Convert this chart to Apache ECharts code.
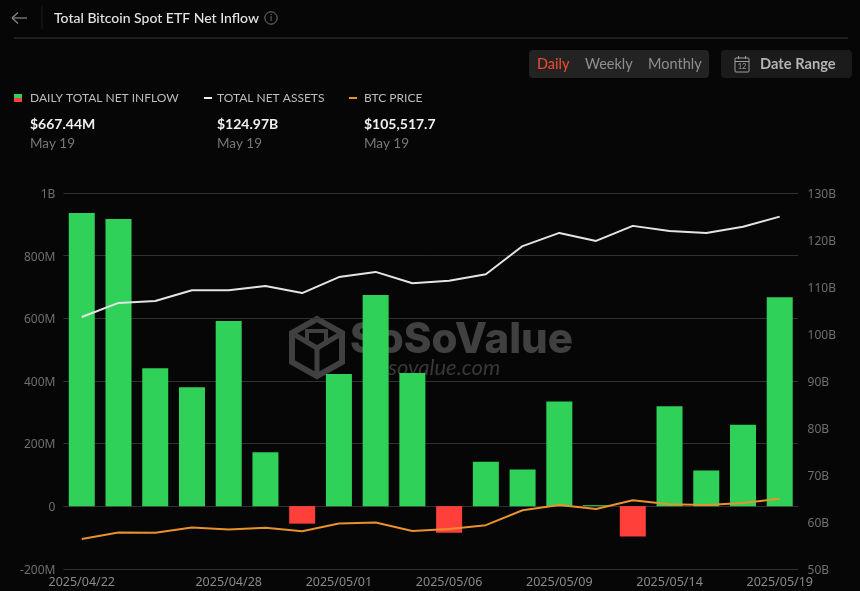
<!DOCTYPE html>
<html><head><meta charset="utf-8">
<style>html,body{margin:0;padding:0;background:#060606}#c{width:860px;height:591px}</style>
<script src="https://cdn.jsdelivr.net/npm/echarts@6/dist/echarts.min.js"></script>
</head><body><div id="c"></div>
<script>
const dates = ['2025/04/22','2025/04/23','2025/04/24','2025/04/25','2025/04/28','2025/04/29','2025/04/30','2025/05/01','2025/05/02','2025/05/05','2025/05/06','2025/05/07','2025/05/08','2025/05/09','2025/05/12','2025/05/13','2025/05/14','2025/05/15','2025/05/16','2025/05/19'];
const shownDates = [0,4,7,10,13,16,19];
const netInflow = [936,917,440,380,591,172,-56,422,674,425,-85,142,117,334,3,-97,319,114,260,667.44];
const netAssets = [103.6,106.6,107,109.3,109.3,110.2,108.7,112.1,113.2,110.8,111.3,112.7,118.7,121.5,119.8,123,121.9,121.5,122.8,124.97];
const btcPrice = [93730,95600,95550,97070,96490,97010,95990,98240,98540,96080,96660,97750,102140,103690,102520,105070,103900,103690,104280,105517.7];
const GREEN='#30d158', RED='#ff3f3a', FONT='Lato', AXF='"Noto Sans"', WM='#404040';
const T=(x,y,text,fill,size,weight,align)=>({type:'text',x,y,silent:true,style:{text,fill,font:`${weight||400} ${size}px ${FONT}`,align:align||'left',verticalAlign:'middle'}});
const R=(x,y,w,h,fill,r)=>({type:'rect',silent:true,shape:{x,y,width:w,height:h,r:r||0},style:{fill}});
const L=(x1,y1,x2,y2,stroke,lw)=>({type:'line',silent:true,z:0,shape:{x1,y1,x2,y2},style:{stroke,lineWidth:lw||1}});
const graphics=[
 L(12,18,27,18,'#8a8a8a',1.2),L(12,18,18,12.5,'#8a8a8a',1.2),L(12,18,18,23.5,'#8a8a8a',1.2),
 L(42,6,42,29,'#1c1c1c'),
 T(54,18,'Total Bitcoin Spot ETF Net Inflow','#e4e4e4',14,500),
 {type:'circle',silent:true,shape:{cx:271,cy:18,r:6.2},style:{fill:'none',stroke:'#777',lineWidth:1}},
 T(271,18,'i','#777',9,400,'center'),
 L(14,38,848,38,'#343434'),
 R(529,50,180,28,'#232323',4),
 T(537,64.5,'Daily','#e5492f',14.5,500),T(585,64.5,'Weekly','#8f8f8f',14.5),T(648,64.5,'Monthly','#8f8f8f',14.5),
 R(721,50,131,28,'#1b1b1b',4),
 {type:'rect',silent:true,shape:{x:735,y:58,width:14,height:14,r:1},style:{fill:'none',stroke:'#a0a0a0',lineWidth:1}},
 L(735,61.5,749,61.5,'#a0a0a0'),L(738.5,56,738.5,59,'#a0a0a0'),L(745.5,56,745.5,59,'#a0a0a0'),
 T(742,67,'12','#a0a0a0',7.5,400,'center'),
 T(760,64.5,'Date Range','#b4b4b4',14.7,700),
 R(14,94,8,4,GREEN),R(14,98,8,4,RED),
 T(30,98,'DAILY TOTAL NET INFLOW','#bdbdbd',12),
 T(30,124,'$667.44M','#f0f0f0',14,700),T(30,144,'May 19','#777',13.5),
 R(204,97,8,2,'#f0f0f0'),
 T(217,98,'TOTAL NET ASSETS','#bdbdbd',12),
 T(217,124,'$124.97B','#f0f0f0',14,700),T(217,144,'May 19','#777',13.5),
 R(349,97,8,2,'#e8912d'),
 T(364,98,'BTC PRICE','#bdbdbd',12),
 T(364,124,'$105,517.7','#f0f0f0',14,700),T(364,144,'May 19','#777',13.5),
 {type:'polygon',silent:true,z:0,shape:{points:[[317,319],[342,333],[342,362],[317,376],[292,362],[292,333]]},style:{fill:'none',stroke:WM,lineWidth:6}},
 {type:'polyline',silent:true,z:0,shape:{points:[[295,335],[317,348],[339,335]]},style:{fill:'none',stroke:WM,lineWidth:5}},
 L(317,348,317,374,WM,5),
 {type:'polyline',silent:true,z:0,shape:{points:[[307,341],[307,331],[326,331],[326,345]]},style:{fill:'none',stroke:WM,lineWidth:4}},
 {type:'text',silent:true,z:0,x:350,y:340,style:{text:'SoSoValue',fill:WM,font:'800 42px "Inter"',align:'left',verticalAlign:'middle'}},
 {type:'text',silent:true,z:0,x:368,y:368,style:{text:'sosovalue.com',fill:'#383838',font:'italic 400 22px "Lato"',align:'left',verticalAlign:'middle'}}
];
const axisLab={color:'#6f6f6f',fontFamily:AXF,fontSize:12,verticalAlign:'top',lineHeight:3};
const chart=echarts.init(document.getElementById('c'),null,{renderer:'canvas'});
chart.setOption({
 animation:false,backgroundColor:'#060606',
 graphic:graphics,
 grid:{left:63.4,right:61.9,top:193,bottom:22.25,containLabel:false},
 xAxis:{type:'category',data:dates,boundaryGap:true,position:'bottom',
  axisLine:{onZero:false,show:false},axisTick:{show:false},splitLine:{show:false},
  axisLabel:{color:'#8a8a8a',fontFamily:AXF,fontSize:12.5,margin:7,hideOverlap:false,
   interval:(i)=>shownDates.includes(i)}},
 yAxis:[
  {type:'value',min:-200,max:1000,interval:200,position:'left',
   axisLine:{show:false},axisTick:{show:false},splitLine:{lineStyle:{color:'#303030',width:1}},
   axisLabel:{...axisLab,margin:8,formatter:v=>v===1000?'1B':v===0?'0':v+'M'}},
  {type:'value',min:50,max:130,interval:10,position:'right',
   axisLine:{show:false},axisTick:{show:false},splitLine:{show:false},
   axisLabel:{...axisLab,margin:9.5,formatter:v=>v+'B'}},
  {type:'value',min:85000,max:195000,show:false,splitLine:{show:false}}
 ],
 series:[
  {name:'Daily Total Net Inflow',type:'bar',yAxisIndex:0,barWidth:26,
   data:netInflow.map(v=>({value:v,itemStyle:{color:v<0?RED:GREEN}}))},
  {name:'Total Net Assets',type:'line',yAxisIndex:1,data:netAssets,symbol:'none',
   lineStyle:{color:'#e4e4e4',width:2},itemStyle:{color:'#e4e4e4'},z:3},
  {name:'BTC Price',type:'line',yAxisIndex:2,data:btcPrice,symbol:'none',
   lineStyle:{color:'#e8912d',width:2},itemStyle:{color:'#e8912d'},z:4}
 ]
});
</script></body></html>
